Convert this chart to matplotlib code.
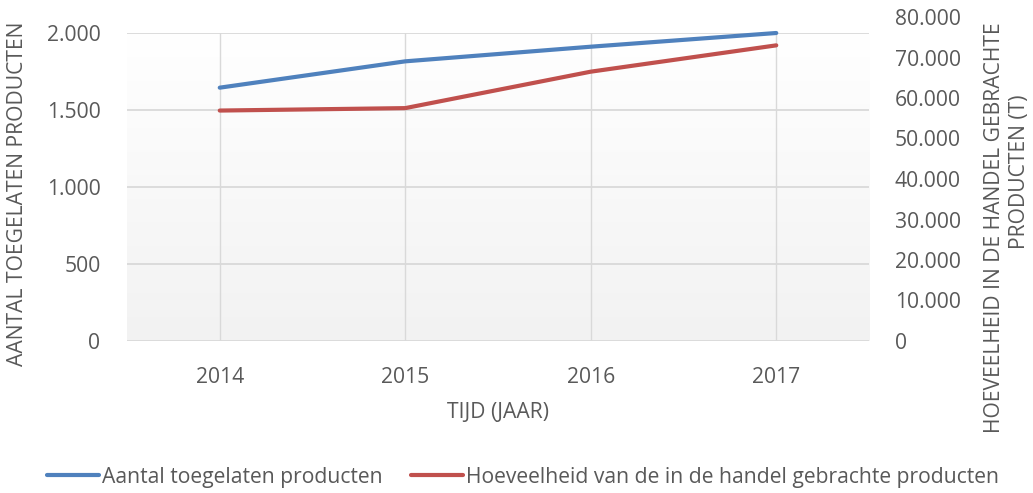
import numpy as np
import matplotlib
matplotlib.use("Agg")
import matplotlib.pyplot as plt
from matplotlib.ticker import FuncFormatter, FixedLocator

# data
years = ["2014", "2015", "2016", "2017"]
toegelaten = [1645, 1816, 1911, 2000]            # left axis
hoeveelheid = [56900, 57500, 66500, 73000]        # right axis (t)

left_ticks = [0, 500, 1000, 1500, 2000]
right_ticks = [0, 10000, 20000, 30000, 40000, 50000, 60000, 70000, 80000]

BLUE = "#4F81BD"
RED = "#C0504D"
TXT = "#595959"
GRID = "#D9D9D9"
FS = 15.2

plt.rcParams["font.family"] = ["Open Sans", "DejaVu Sans"]
plt.rcParams["text.color"] = TXT

W, H = 1033, 493
fig = plt.figure(figsize=(W / 100, H / 100), dpi=100)

def box(l, t, r, b):
    return [l / W, 1 - b / H, (r - l) / W, (b - t) / H]

def dutch(v, pos=None):
    return f"{int(v):,}".replace(",", ".")

x = np.arange(len(years))

ax = fig.add_axes(box(127, 33, 869, 341))
ax.set_xlim(-0.5, len(years) - 0.5)
ax.set_ylim(0, 2000)

# gradient plot area
cm = matplotlib.colors.LinearSegmentedColormap.from_list("g", ["#F2F2F2", "#FFFFFF"])
grad = np.linspace(1.0, 0.0, 256).reshape(-1, 1)
ax.imshow(grad, cmap=cm, aspect="auto", extent=(-0.5, len(years) - 0.5, 0, 2000),
          zorder=0, origin="upper")

for y in left_ticks:
    ax.axhline(y, color=GRID, lw=1.3, zorder=1)
for xi in x:
    ax.plot([xi, xi], [0, 2000], color=GRID, lw=1.0, zorder=1)

ax.plot(x, toegelaten, color=BLUE, lw=3.0, solid_capstyle="round", zorder=4,
        clip_on=False, label="Aantal toegelaten producten")

for s in ax.spines.values():
    s.set_visible(False)
ax.yaxis.set_major_locator(FixedLocator(left_ticks))
ax.yaxis.set_major_formatter(FuncFormatter(dutch))
ax.set_xticks(x)
ax.set_xticklabels(years)
ax.tick_params(length=0, labelsize=FS, labelcolor=TXT)
ax.tick_params(axis="y", pad=19)
ax.tick_params(axis="x", pad=19)
ax.set_xlabel("TIJD (JAAR)", fontsize=FS, color=TXT, labelpad=10)

# secondary axis is taller than the primary one in the original
ax2 = fig.add_axes(box(127, 17, 869, 341))
ax2.patch.set_alpha(0)
ax2.set_xlim(-0.5, len(years) - 0.5)
ax2.set_ylim(0, 80000)
ax2.plot(x, hoeveelheid, color=RED, lw=3.0, solid_capstyle="round", zorder=4,
         clip_on=False, label="Hoeveelheid van de in de handel gebrachte producten")
for s in ax2.spines.values():
    s.set_visible(False)
ax2.set_xticks([])
ax2.yaxis.tick_right()
ax2.yaxis.set_major_locator(FixedLocator(right_ticks))
ax2.yaxis.set_major_formatter(FuncFormatter(dutch))
ax2.tick_params(length=0, labelsize=FS, labelcolor=TXT, pad=18.5)

fig.text(18 / W, 1 - 194 / H, "AANTAL TOEGELATEN PRODUCTEN", rotation=90,
         ha="center", va="center", fontsize=FS, color=TXT)
fig.text(994 / W, 1 - 228 / H, "HOEVEELHEID IN DE HANDEL GEBRACHTE", rotation=90,
         ha="center", va="center", fontsize=FS, color=TXT)
fig.text(1020 / W, 1 - 172 / H, "PRODUCTEN (T)", rotation=90,
         ha="center", va="center", fontsize=FS, color=TXT)

h1, l1 = ax.get_legend_handles_labels()
h2, l2 = ax2.get_legend_handles_labels()
fig.legend(h1 + h2, l1 + l2, loc="center", bbox_to_anchor=(523 / W, 1 - 477 / H),
           ncol=2, frameon=False, fontsize=FS, handlelength=2.5, handletextpad=0.15,
           columnspacing=1.3, labelcolor=TXT, borderpad=0, borderaxespad=0)

fig.savefig("out.png", dpi=100)
